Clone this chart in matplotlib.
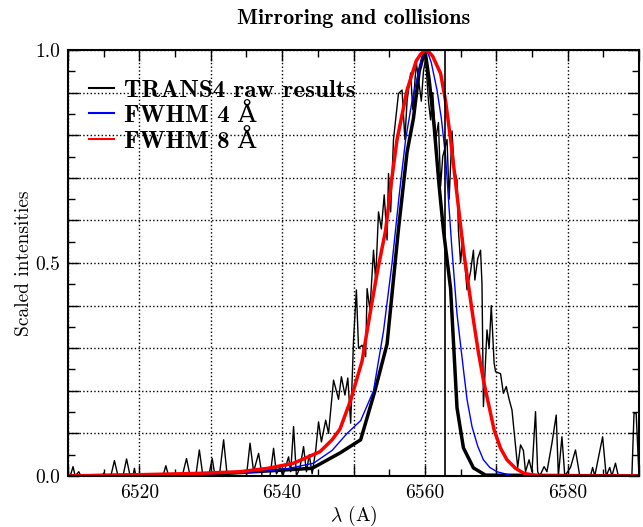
import matplotlib
matplotlib.use("Agg")
import matplotlib.pyplot as plt
from matplotlib.ticker import MultipleLocator, FuncFormatter

plt.rcParams['font.family'] = ['cmr10', 'DejaVu Serif']
plt.rcParams['mathtext.fontset'] = 'cm'
plt.rcParams['axes.formatter.use_mathtext'] = True

# raw TRANS4 spectrum (thin black)
lam_raw = [6510.0, 6510.4, 6510.7, 6511.0, 6511.5, 6511.8, 6514.8, 6515.0, 6515.2, 6516.0,
           6516.5, 6517.0, 6517.7, 6518.2, 6518.7, 6519.1, 6519.3, 6519.5, 6523.3, 6523.7,
           6524.1, 6526.0, 6526.6, 6527.1, 6527.9, 6528.4, 6528.9, 6529.7, 6530.2, 6530.6,
           6531.2, 6531.8, 6532.3, 6535.0, 6535.5, 6536.0, 6536.7, 6537.2, 6538.3, 6538.8,
           6539.2, 6539.7, 6540.1, 6540.9, 6541.2, 6541.6, 6542.0, 6542.5, 6543.0, 6543.4,
           6543.8, 6544.2, 6544.7, 6545.1, 6545.5, 6546.1, 6546.5, 6547.2, 6547.9, 6548.3,
           6548.8, 6549.2, 6549.6, 6550.0, 6550.4, 6550.7, 6551.2, 6551.7, 6551.9, 6552.3,
           6552.8, 6553.1, 6553.5, 6553.9, 6554.3, 6554.7, 6554.9, 6555.2, 6555.6, 6556.3,
           6556.8, 6557.2, 6557.5, 6558.0, 6558.3, 6558.8, 6559.5, 6559.8, 6560.1, 6560.5,
           6560.8, 6561.1, 6561.5, 6561.9, 6562.2, 6562.5, 6563.1, 6563.4, 6563.8, 6564.1,
           6564.5, 6564.7, 6565.0, 6565.3, 6565.9, 6566.4, 6566.8, 6567.0, 6567.4, 6567.8,
           6568.0, 6568.2, 6568.7, 6569.0, 6569.3, 6569.7, 6569.9, 6570.6, 6571.0, 6571.4,
           6571.8, 6572.2, 6572.7, 6573.0, 6573.4, 6573.8, 6574.1, 6574.6, 6575.0, 6575.5,
           6575.8, 6576.1, 6576.7, 6577.1, 6577.8, 6578.4, 6578.7, 6579.2, 6579.6, 6580.4,
           6581.1, 6581.7, 6583.2, 6583.5, 6583.8, 6584.9, 6585.4, 6585.9, 6586.2, 6586.7,
           6587.1, 6589.0, 6589.3, 6589.6, 6590.0]
int_raw = [0.0, 0.005, 0.022, 0.0, 0.01, 0.0, 0.0, 0.007, 0.0, 0.0,
           0.036, 0.0, 0.0, 0.04, 0.0, 0.0, 0.018, 0.0, 0.0, 0.024,
           0.0, 0.0, 0.041, 0.0, 0.0, 0.061, 0.0, 0.0, 0.041, 0.0,
           0.0, 0.085, 0.0, 0.0, 0.077, 0.01, 0.053, 0.0, 0.0, 0.065,
           0.005, 0.02, 0.0, 0.045, 0.01, 0.116, 0.0, 0.02, 0.069, 0.01,
           0.05, 0.005, 0.06, 0.127, 0.08, 0.131, 0.1, 0.225, 0.18, 0.233,
           0.19, 0.23, 0.124, 0.319, 0.437, 0.30, 0.307, 0.28, 0.44, 0.39,
           0.53, 0.46, 0.62, 0.58, 0.66, 0.554, 0.71, 0.62, 0.79, 0.898,
           0.906, 0.79, 0.88, 0.946, 0.86, 0.97, 0.88, 0.95, 0.98, 0.88,
           0.836, 0.9, 0.79, 0.83, 0.68, 0.75, 0.79, 0.65, 0.81, 0.72,
           0.695, 0.577, 0.5, 0.56, 0.437, 0.48, 0.53, 0.46, 0.51, 0.53,
           0.45, 0.163, 0.343, 0.3, 0.40, 0.265, 0.245, 0.24, 0.194, 0.21,
           0.18, 0.155, 0.069, 0.02, 0.073, 0.06, 0.01, 0.038, 0.01, 0.151,
           0.01, 0.0, 0.022, 0.01, 0.077, 0.143, 0.0, 0.092, 0.0, 0.02,
           0.061, 0.0, 0.0, 0.02, 0.0, 0.092, 0.0, 0.02, 0.0, 0.03,
           0.0, 0.0, 0.147, 0.147, 0.0]

# coarse profile (thick black)
lam_coarse = [6510, 6530, 6544.2, 6548.1, 6551.0, 6553.0, 6554.7, 6556.3, 6557.5, 6558.4,
              6559.2, 6560.0, 6560.6, 6561.3, 6562.0, 6562.6, 6563.6, 6564.5, 6565.4, 6566.8,
              6568.5, 6590]
int_coarse = [0.0, 0.004, 0.018, 0.054, 0.085, 0.2, 0.31, 0.58, 0.76, 0.84,
              0.95, 1.0, 0.93, 0.82, 0.68, 0.577, 0.44, 0.16, 0.066, 0.019,
              0.002, 0.0]

# convolved with 4 A FWHM
lam_4 = [6510, 6520, 6530, 6536.9, 6541, 6544.4, 6547, 6549.1, 6551.0, 6552.8,
         6553.5, 6554.2, 6555.4, 6556.4, 6557.3, 6558.3, 6559.1, 6559.6, 6560.0, 6560.5,
         6560.9, 6561.7, 6562.3, 6562.9, 6563.3, 6563.8, 6564.5, 6565.4, 6565.9, 6566.6,
         6567.4, 6568.2, 6569.1, 6570.1, 6572.4, 6590]
int_4 = [0.0, 0.002, 0.005, 0.01, 0.018, 0.03, 0.06, 0.10, 0.13, 0.20,
         0.27, 0.34, 0.50, 0.66, 0.79, 0.89, 0.946, 0.985, 1.0, 0.99,
         0.97, 0.906, 0.84, 0.75, 0.65, 0.53, 0.38, 0.25, 0.18, 0.116,
         0.07, 0.038, 0.02, 0.01, 0.0, 0.0]

# convolved with 8 A FWHM
lam_8 = [6510, 6520, 6528, 6534.1, 6538, 6541.6, 6545.3, 6547.0, 6548.1, 6549.6,
         6551.2, 6552.2, 6553.3, 6554.5, 6555.3, 6556.1, 6557.5, 6558.8, 6559.4, 6560.0,
         6560.6, 6561.1, 6562.2, 6562.9, 6563.6, 6564.5, 6565.4, 6566.8, 6567.5, 6568.2,
         6569.7, 6570.6, 6571.5, 6572.7, 6573.9, 6576, 6590]
int_8 = [0.0, 0.003, 0.006, 0.01, 0.018, 0.03, 0.057, 0.085, 0.11, 0.178,
         0.27, 0.37, 0.476, 0.577, 0.69, 0.79, 0.906, 0.975, 0.99, 1.0,
         0.995, 0.985, 0.945, 0.88, 0.79, 0.66, 0.53, 0.366, 0.29, 0.225,
         0.108, 0.065, 0.038, 0.018, 0.006, 0.0, 0.0]

line_center = 6562.8

fig = plt.figure(figsize=(6.43, 5.27), dpi=100)
ax = fig.add_axes([0.1058, 0.0968, 0.888, 0.8083])

ax.plot(lam_raw, int_raw, color='black', lw=1.0, label='TRANS4 raw results')
ax.plot(lam_coarse, int_coarse, color='black', lw=2.5)
ax.plot(lam_4, int_4, color='#0000ff', lw=1.0, label='FWHM 4 Å')
ax.plot(lam_8, int_8, color='#ff0000', lw=2.5, label='FWHM 8 Å')
ax.axvline(line_center, color='black', lw=1.2)

ax.set_xlim(6510, 6590)
ax.set_ylim(0, 1.0)

ax.xaxis.set_major_locator(MultipleLocator(10))
ax.xaxis.set_minor_locator(MultipleLocator(5))
ax.yaxis.set_major_locator(MultipleLocator(0.1))
ax.yaxis.set_minor_locator(MultipleLocator(0.05))
ax.xaxis.set_major_formatter(FuncFormatter(lambda v, p: f"{v:.0f}" if round(v) % 20 == 0 else ""))
ax.yaxis.set_major_formatter(FuncFormatter(lambda v, p: f"{v:.1f}" if abs(v * 2 - round(v * 2)) < 1e-6 else ""))
ax.tick_params(which='both', direction='in', top=True, right=True, labelsize=14, width=1.0)
ax.tick_params(which='major', length=8, pad=6)
ax.tick_params(which='minor', length=5)
ax.grid(True, which='major', color='black', linestyle=':', lw=1.0)
for s in ax.spines.values():
    s.set_linewidth(1.5)

ax.set_xlabel(r'$\lambda$ (A)', fontsize=14, labelpad=1)
ax.set_ylabel('Scaled intensities', fontsize=14, labelpad=1)
ax.set_title('Mirroring and collisions', fontsize=16, family=['cmb10', 'DejaVu Serif'], pad=19)

leg = ax.legend(loc='upper left', bbox_to_anchor=(0.02, 0.955), frameon=False,
                handlelength=1.0, handletextpad=0.4, labelspacing=0.1, borderaxespad=0,
                prop={'family': ['cmb10', 'DejaVu Serif'], 'size': 18})
for h in leg.get_lines():
    h.set_linewidth(1.5)

fig.savefig('out.png', dpi=100)
